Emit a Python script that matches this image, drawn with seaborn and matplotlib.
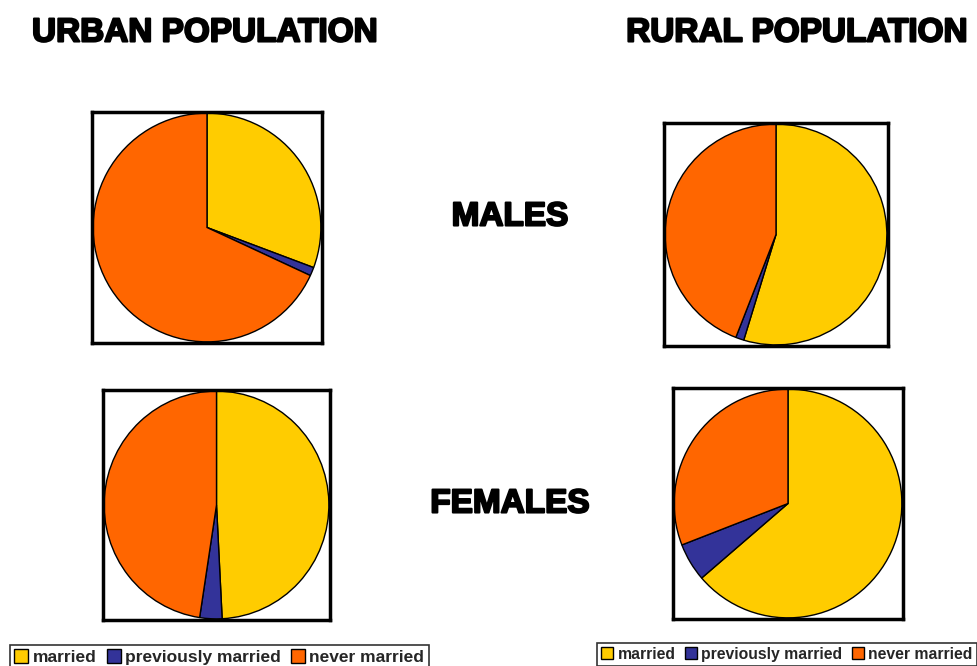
import matplotlib
matplotlib.use("Agg")
import matplotlib.pyplot as plt
import matplotlib.patches as mpatches
import matplotlib.patheffects as pe
import seaborn as sns

# marital status shares (%), read clockwise from 12 o'clock
categories = ["married", "previously married", "never married"]
urban_males = [30.7, 1.2, 68.1]
rural_males = [54.7, 1.2, 44.1]
urban_females = [49.2, 3.2, 47.6]
rural_females = [63.7, 5.4, 30.9]

colors = ["#FFCC00", "#333399", "#FF6600"]

sns.set_style("white")
plt.rcParams['font.family'] = ['Liberation Sans', 'DejaVu Sans']

W, H = 978, 666
fig = plt.figure(figsize=(W / 100, H / 100), dpi=100)


def px_axes(left, top, right, bottom):
    return fig.add_axes([left / W, 1 - bottom / H, (right - left) / W, (bottom - top) / H])


def draw_pie(box, values):
    ax = px_axes(*box)
    ax.pie(values, colors=sns.color_palette(colors), startangle=90, counterclock=False,
           radius=1, frame=True, wedgeprops=dict(edgecolor="black", linewidth=1))
    ax.set_aspect('auto')
    ax.set_xlim(-1.01, 1.01)
    ax.set_ylim(-1.01, 1.01)
    ax.set_xticks([])
    ax.set_yticks([])
    for s in ax.spines.values():
        s.set_visible(True)
        s.set_color("black")
        s.set_linewidth(2.5)
    return ax


draw_pie((92, 112, 322, 343), urban_males)
draw_pie((664, 123, 888, 346), rural_males)
draw_pie((103, 390, 330, 620), urban_females)
draw_pie((673, 388, 903, 619), rural_females)

heavy = [pe.withStroke(linewidth=1.5, foreground="black")]


def label(x, y, s, size):
    fig.text(x / W, 1 - y / H, s, ha="center", va="center", fontsize=size,
             fontweight="bold", color="black", path_effects=heavy)


label(205, 33, "URBAN POPULATION", 24)
label(797, 33, "RURAL POPULATION", 24)
label(510, 217, "MALES", 24)
label(510, 504, "FEMALES", 24)

handles = [mpatches.Patch(facecolor=c, edgecolor="black", linewidth=1, label=n)
           for c, n in zip(colors, categories)]


def legend(left, top, size):
    leg = fig.legend(handles=handles, loc="upper left", bbox_to_anchor=(left / W, 1 - top / H),
                     ncol=3, frameon=True, fancybox=False, edgecolor="black",
                     prop=dict(size=size, weight="bold"), handlelength=0.8, handleheight=0.8,
                     handletextpad=0.25, columnspacing=0.6, borderpad=0.25, borderaxespad=0)
    leg.get_frame().set_linewidth(1.2)
    return leg


legend(10, 645, 12.5)
legend(597, 643, 11.3)

fig.savefig("out.png", dpi=100)
